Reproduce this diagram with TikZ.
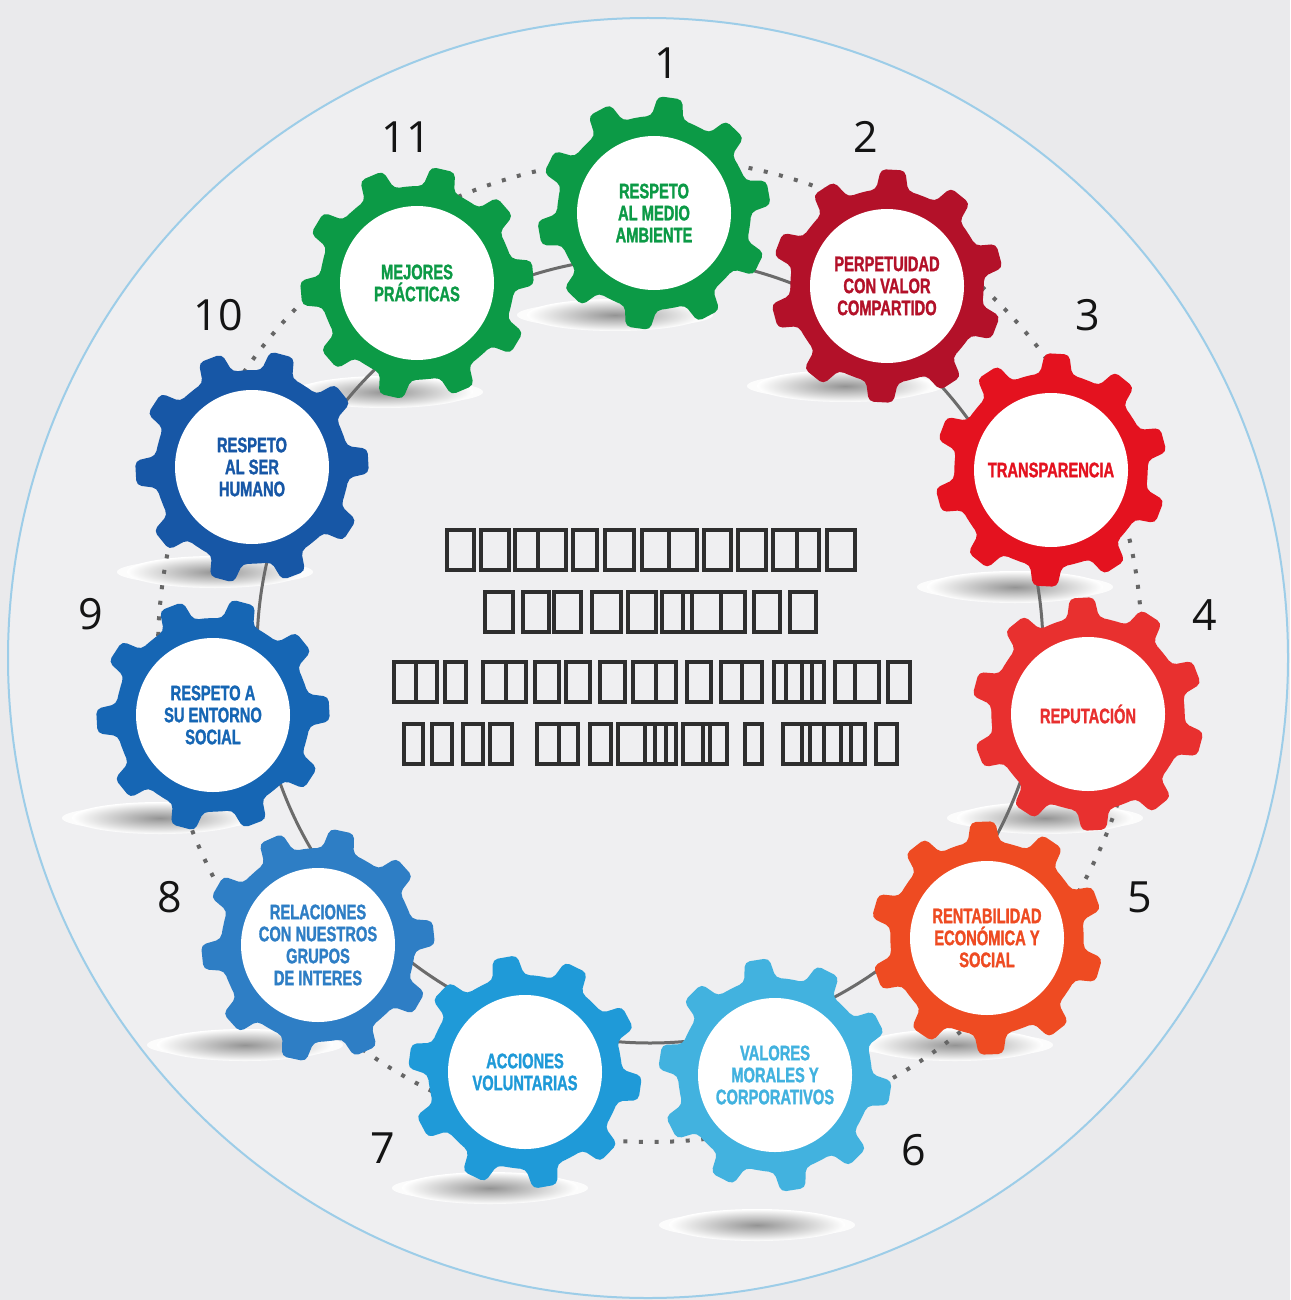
\documentclass[tikz,border=0pt]{standalone}
\usepackage{fontspec}
\newfontfamily\labelfont[FakeStretch=0.7,BoldFeatures={FakeBold=1.4}]{Liberation Sans}
\newfontfamily\numfont{Open Sans}
\definecolor{bgc}{HTML}{EAEAEC}
\definecolor{innerc}{HTML}{EFEFF1}
\definecolor{ringblue}{HTML}{9DCDE8}
\definecolor{ca}{HTML}{0C9A46}
\definecolor{cb}{HTML}{B31129}
\definecolor{cc}{HTML}{E4121F}
\definecolor{cd}{HTML}{E8302F}
\definecolor{ce}{HTML}{EE4B22}
\definecolor{cf}{HTML}{42B2DF}
\definecolor{cg}{HTML}{1F9AD8}
\definecolor{ch}{HTML}{2E7EC5}
\definecolor{ci}{HTML}{1666B4}
\definecolor{cj}{HTML}{1757A6}
\definecolor{ck}{HTML}{0C9A46}
\tikzset{
  gearlbl/.style={circle, fill=white, minimum size=77pt, inner sep=0pt, align=center,
    font=\labelfont\bfseries\fontsize{10.5}{11}\selectfont},
  numlbl/.style={font=\numfont\fontsize{21.5}{24}\selectfont, text=black!92, inner sep=0pt},
  tofu/.style={draw=black!82, line width=2.1pt},
  ringline/.style={draw=black!58, line width=1.5pt},
  dotline/.style={draw=black!60, line width=2pt, dash pattern=on 2pt off 5.8pt},
}
\newcommand\gearshape[3]{%
  \fill[#3, rounded corners=2.5pt, shift={#1}] ({#2-18}:97)
    \foreach \i in {0,...,9}{ -- ({#2+\i*36-13}:97) -- ({#2+\i*36-9.5}:97)
      -- ({#2+\i*36-6}:117) -- ({#2+\i*36+6}:117) -- ({#2+\i*36+9.5}:97)
      -- ({#2+\i*36+13}:97)} -- cycle;}
\newcommand\gshadow[1]{%
  \fill[white, opacity=0.85] #1 ellipse[x radius=98, y radius=13];
  \shade[inner color=black!42, outer color=white] #1 ellipse[x radius=88, y radius=16];}
\begin{document}
\begin{tikzpicture}[x=0.5pt,y=-0.5pt]
\useasboundingbox (0,0) rectangle (1290,1300);
\fill[bgc] (0,0) rectangle (1290,1300);
\fill[innerc] (648,658) circle[radius=640];
\draw[ringblue, line width=1pt] (648,658) circle[radius=640];
% shadows
\foreach \p in {(615,315),(845,386),(1015,587),(1045,818),(955,1045),(757,1225),(490,1188),(245,1045),(160,818),(215,572),(385,392)}
  {\gshadow{\p}}
% rings
\draw[dotline] (650,650) circle[radius=492];
\draw[ringline] (650,650) circle[radius=393];
% gears
\gearshape{(654,213)}{-82}{ca}
\gearshape{(887,286)}{-87}{cb}
\gearshape{(1051,470)}{-87}{cc}
\gearshape{(1088,714)}{-93}{cd}
\gearshape{(987,938)}{-92}{ce}
\gearshape{(775,1075)}{-63}{cf}
\gearshape{(525,1072)}{-64}{cg}
\gearshape{(318,945)}{-78}{ch}
\gearshape{(213,715)}{-75}{ci}
\gearshape{(252,467)}{-75}{cj}
\gearshape{(417,283)}{-77}{ck}
% labels
\node[gearlbl, text=ca] (g1) at (654,213) {RESPETO\\AL MEDIO\\AMBIENTE};
\node[gearlbl, text=cb] (g2) at (887,286) {PERPETUIDAD\\CON VALOR\\COMPARTIDO};
\node[gearlbl, text=cc] (g3) at (1051,470) {TRANSPARENCIA};
\node[gearlbl, text=cd] (g4) at (1088,714) {REPUTACIÓN};
\node[gearlbl, text=ce] (g5) at (987,938) {RENTABILIDAD\\ECONÓMICA Y\\SOCIAL};
\node[gearlbl, text=cf] (g6) at (775,1075) {VALORES\\MORALES Y\\CORPORATIVOS};
\node[gearlbl, text=cg] (g7) at (525,1072) {ACCIONES\\VOLUNTARIAS};
\node[gearlbl, text=ch] (g8) at (318,945) {RELACIONES\\CON NUESTROS\\GRUPOS\\DE INTERES};
\node[gearlbl, text=ci] (g9) at (213,715) {RESPETO A\\SU ENTORNO\\SOCIAL};
\node[gearlbl, text=cj] (g10) at (252,467) {RESPETO\\AL SER\\HUMANO};
\node[gearlbl, text=ck] (g11) at (417,283) {MEJORES\\PRÁCTICAS};
% numbers
\node[numlbl] (n1) at (667,63) {1};
\node[numlbl] (n2) at (866,137) {2};
\node[numlbl] (n3) at (1088,315) {3};
\node[numlbl] (n4) at (1205,615) {4};
\node[numlbl] (n5) at (1140,897) {5};
\node[numlbl] (n6) at (914,1150) {6};
\node[numlbl] (n7) at (383,1148) {7};
\node[numlbl] (n8) at (170,897) {8};
\node[numlbl] (n9) at (91,614) {9};
\node[numlbl] (n10) at (218,315) {10};
\node[numlbl] (n11) at (406,137) {11};
% central text (missing glyph boxes)
\foreach \a/\b in {447/474,481/509,515/538,538/566,573/597,605/634,642/669,669/697,704/731,738/766,773/797,797/819,827/855}
  {\draw[tofu] (\a,530) rectangle (\b,570);}
\foreach \a/\b in {485/513,523/549,554/581,592/621,628/656,662/692,683/721,721/745,754/780,790/816}
  {\draw[tofu] (\a,592) rectangle (\b,632);}
\foreach \a/\b in {394/416,416/437,445/466,483/506,506/526,535/559,566/590,600/625,633/656,656/676,687/711,721/742,742/762,774/786,786/802,802/812,812/824,835/855,855/879,888/910}
  {\draw[tofu] (\a,662) rectangle (\b,702);}
\foreach \a/\b in {404/423,432/452,463/483,490/512,537/559,559/578,590/611,618/645,645/655,655/666,666/676,683/703,703/710,710/727,745/762,783/802,802/810,810/824,824/841,841/851,851/865,876/897}
  {\draw[tofu] (\a,724) rectangle (\b,764);}
\end{tikzpicture}
\end{document}
